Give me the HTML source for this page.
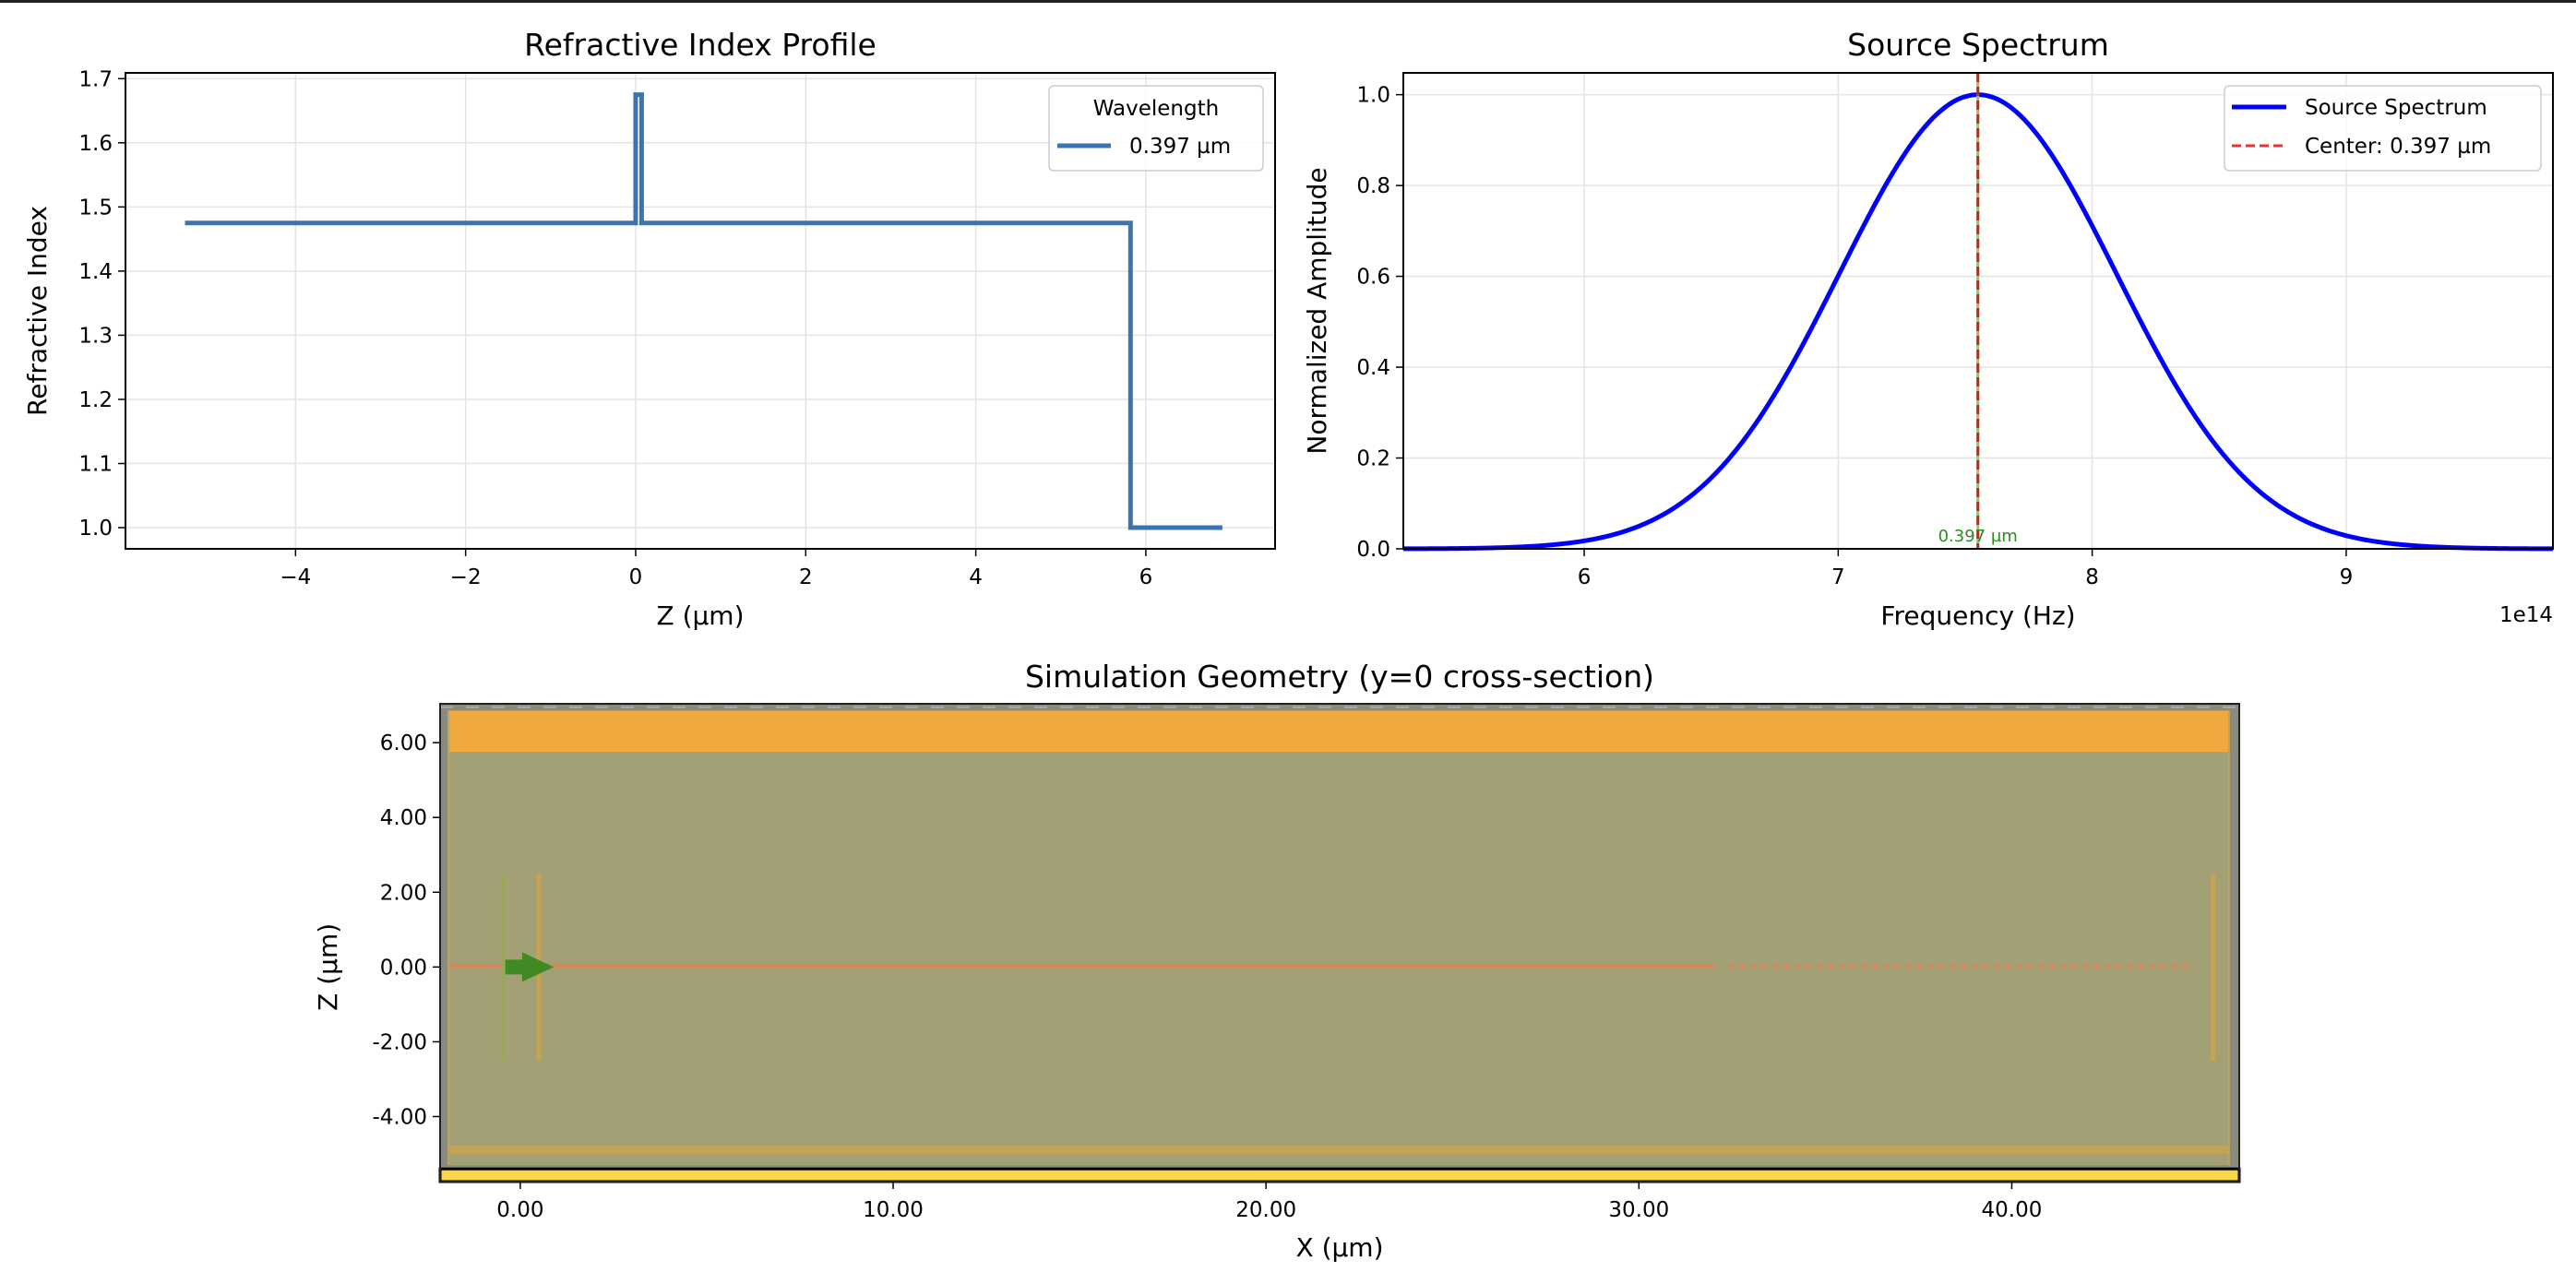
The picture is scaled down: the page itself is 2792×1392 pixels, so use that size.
<!DOCTYPE html>
<html><head><meta charset="utf-8"><style>
html,body{margin:0;padding:0;background:#fff;}
svg{display:block;font-family:"DejaVu Sans","Liberation Sans",sans-serif;}
</style></head><body>
<svg id="fig" width="2792" height="1392" viewBox="0 0 2792 1392" xmlns="http://www.w3.org/2000/svg">
<rect x="0" y="0" width="2792" height="3" fill="#222"/>
<g id="p1"></g>
<g id="p2"></g>
<g id="p3"></g>
</svg>
<script>
// ---- Panel 1 data ----
const riZ = [-5.3, 0.0, 0.0, 0.07, 0.07, 5.82, 5.82, 6.9];
const riN = [1.475, 1.475, 1.675, 1.675, 1.475, 1.475, 1.0, 1.0];
const riXTicks = [-4, -2, 0, 2, 4, 6];
const riYTicks = [1.0, 1.1, 1.2, 1.3, 1.4, 1.5, 1.6, 1.7];
// ---- Panel 2 data ----
const specCenter = 7.55;
const specSigma = 0.545;
const specXTicks = [6, 7, 8, 9];
const specYTicks = [0.0, 0.2, 0.4, 0.6, 0.8, 1.0];
// ---- Panel 3 data ----
const geoXTicks = [0, 10, 20, 30, 40];
const geoYTicks = [6, 4, 2, 0, -2, -4];

const NS = "http://www.w3.org/2000/svg";
function mk(parent, tag, attrs, text){
  const e = document.createElementNS(NS, tag);
  for (const k in attrs) e.setAttribute(k, attrs[k]);
  if (text !== undefined) e.textContent = text;
  parent.appendChild(e);
  return e;
}
function lin(d0,d1,r0,r1){return v=>r0+(v-d0)/(d1-d0)*(r1-r0);}

// ================= Panel 1 =================
(function(){
  const g = document.getElementById('p1');
  const L=136,R=1382,T=79,B=595;
  const sx = lin(-6.0,7.52,L,R), sy = lin(0.967,1.709,B,T);
  riXTicks.forEach(v=>{
    const l=mk(g,'line',{x1:sx(v),x2:sx(v),y1:T,y2:B,stroke:'#e4e4e4','stroke-width':1.5});
     
    const t=mk(g,'line',{x1:sx(v),x2:sx(v),y1:B,y2:B+8,stroke:'#000','stroke-width':1.5});
     
    const tx=mk(g,'text',{x:sx(v),y:B+38,'font-size':23,'text-anchor':'middle'},(v<0?'\u2212'+(-v):String(v)));
     
  });
  riYTicks.forEach(v=>{
    const l=mk(g,'line',{x1:L,x2:R,y1:sy(v),y2:sy(v),stroke:'#e4e4e4','stroke-width':1.5});
     
    const t=mk(g,'line',{x1:L-8,x2:L,y1:sy(v),y2:sy(v),stroke:'#000','stroke-width':1.5});
     
    const tx=mk(g,'text',{x:L-14,y:sy(v)+8,'font-size':23,'text-anchor':'end'},v.toFixed(1));
     
  });
  const pts = riZ.map((z,i)=>sx(z)+','+sy(riN[i])).join(' ');
  const pl=mk(g,'polyline',{points:pts,fill:'none',stroke:'#3b75af','stroke-width':5});
   
  const ax=mk(g,'rect',{x:L,y:T,width:R-L,height:B-T,fill:'none',stroke:'#000','stroke-width':2});
   
  const tt=mk(g,'text',{x:(L+R)/2,y:60,'font-size':33,'text-anchor':'middle'},'Refractive Index Profile');
   
  const xl=mk(g,'text',{x:(L+R)/2,y:677,'font-size':28,'text-anchor':'middle'},'Z (\u00b5m)');
   
  const yl=mk(g,'text',{x:0,y:0,'font-size':28,'text-anchor':'middle',transform:`translate(50,${(T+B)/2}) rotate(-90)`},'Refractive Index');
   
  const lg=mk(g,'g',{});
   
  mk(lg,'rect',{x:1137,y:93,width:232,height:92,rx:5,fill:'#fff','fill-opacity':0.8,stroke:'#ccc','stroke-width':1.5});
  mk(lg,'text',{x:1253,y:125,'font-size':23,'text-anchor':'middle'},'Wavelength');
  mk(lg,'line',{x1:1146,x2:1204,y1:158,y2:158,stroke:'#3b75af','stroke-width':5});
  mk(lg,'text',{x:1224,y:166,'font-size':23},'0.397 \u00b5m');
})();

// ================= Panel 2 =================
(function(){
  const g = document.getElementById('p2');
  const L=1521,R=2767,T=79,B=595;
  const sx = lin(5.288,9.814,L,R), sy = lin(0,1.048,B,T);
  specXTicks.forEach(v=>{
    const l=mk(g,'line',{x1:sx(v),x2:sx(v),y1:T,y2:B,stroke:'#e4e4e4','stroke-width':1.5});
     
    const t=mk(g,'line',{x1:sx(v),x2:sx(v),y1:B,y2:B+8,stroke:'#000','stroke-width':1.5});
     
    const tx=mk(g,'text',{x:sx(v),y:B+38,'font-size':23,'text-anchor':'middle'},String(v));
     
  });
  specYTicks.forEach(v=>{
    const l=mk(g,'line',{x1:L,x2:R,y1:sy(v),y2:sy(v),stroke:'#e4e4e4','stroke-width':1.5});
     
    const t=mk(g,'line',{x1:L-8,x2:L,y1:sy(v),y2:sy(v),stroke:'#000','stroke-width':1.5});
     
    const tx=mk(g,'text',{x:L-14,y:sy(v)+8,'font-size':23,'text-anchor':'end'},v.toFixed(1));
     
  });
  let pts=[];
  for(let i=0;i<=400;i++){const f=5.288+(9.814-5.288)*i/400;pts.push(sx(f)+','+sy(Math.exp(-Math.pow(f-specCenter,2)/(2*specSigma*specSigma))));}
  const pl=mk(g,'polyline',{points:pts.join(' '),fill:'none',stroke:'#0000ff','stroke-width':5});
   
  const cl=mk(g,'line',{x1:sx(specCenter),x2:sx(specCenter),y1:T,y2:B,stroke:'#8fbf8f','stroke-width':3});
   
  const cd=mk(g,'line',{x1:sx(specCenter),x2:sx(specCenter),y1:T,y2:B,stroke:'#b0301a','stroke-width':3,'stroke-dasharray':'10,5'});
   
  const an=mk(g,'text',{x:sx(specCenter),y:B-8,'font-size':18,'text-anchor':'middle',fill:'#2e8b22'},'0.397 \u00b5m');
   
  const ax=mk(g,'rect',{x:L,y:T,width:R-L,height:B-T,fill:'none',stroke:'#000','stroke-width':2});
   
  const tt=mk(g,'text',{x:(L+R)/2,y:60,'font-size':33,'text-anchor':'middle'},'Source Spectrum');
   
  const xl=mk(g,'text',{x:(L+R)/2,y:677,'font-size':28,'text-anchor':'middle'},'Frequency (Hz)');
   
  const ex=mk(g,'text',{x:R,y:674,'font-size':23,'text-anchor':'end'},'1e14');
   
  const yl=mk(g,'text',{x:0,y:0,'font-size':28,'text-anchor':'middle',transform:`translate(1437,${(T+B)/2}) rotate(-90)`},'Normalized Amplitude');
   
  const lg=mk(g,'g',{});
   
  mk(lg,'rect',{x:2411,y:93,width:343,height:92,rx:5,fill:'#fff','fill-opacity':0.8,stroke:'#ccc','stroke-width':1.5});
  mk(lg,'line',{x1:2419,x2:2478,y1:116,y2:116,stroke:'#0000ff','stroke-width':5});
  mk(lg,'text',{x:2498,y:124,'font-size':23},'Source Spectrum');
  mk(lg,'line',{x1:2419,x2:2478,y1:158,y2:158,stroke:'#e8332a','stroke-width':3,'stroke-dasharray':'10,5'});
  mk(lg,'text',{x:2498,y:166,'font-size':23},'Center: 0.397 \u00b5m');
})();

// ================= Panel 3 =================
(function(){
  const g = document.getElementById('p3');
  const L=477,R=2427,T=763,B=1281;
  const sx = lin(-2.15,46.1,L,R), sy = lin(-5.74,7.04,B,T);
  function box(x0,x1,z0,z1,attrs,name){
    const r=mk(g,'rect',Object.assign({x:sx(x0),y:sy(z1),width:sx(x1)-sx(x0),height:sy(z0)-sy(z1)},attrs));
     
    return r;
  }
  box(-2.15,46.1,-5.74,7.04,{fill:'#8a8a7e'},'simulation-domain');
  box(-1.95,45.85,-5.3,5.75,{fill:'#a4a076'},'substrate-region');
  box(-1.95,45.85,5.75,6.86,{fill:'#f0a93e'},'top-layer');
  box(-1.95,45.85,-5.0,-4.78,{fill:'#c4a454'},'bottom-layer');
  box(-1.95,-1.9,-5.3,6.86,{fill:'#b9a462'},'left-edge-strip');
  box(45.8,45.85,-5.3,6.86,{fill:'#b9a462'},'right-edge-strip');
  const pml=mk(g,'line',{x1:L,x2:R,y1:sy(6.95),y2:sy(6.95),stroke:'#aaa','stroke-width':2,'stroke-dasharray':'14,14'});
   
  box(-2.15,46.1,-5.74,-5.4,{fill:'#f8d84a',stroke:'#000','stroke-width':3},'bottom-substrate');
  const wg1=mk(g,'line',{x1:sx(-1.9),x2:sx(32),y1:sy(0.03),y2:sy(0.03),stroke:'#d8855a','stroke-width':4});
   
  const wg2=mk(g,'line',{x1:sx(32.4),x2:sx(44.8),y1:sy(0.03),y2:sy(0.03),stroke:'#d8855a','stroke-width':4,'stroke-dasharray':'6,6'});
   
  const s=mk(g,'line',{x1:sx(-0.46),x2:sx(-0.46),y1:sy(2.5),y2:sy(-2.5),stroke:'#98a858','stroke-width':5});
   
  const m1=mk(g,'line',{x1:sx(0.5),x2:sx(0.5),y1:sy(2.5),y2:sy(-2.5),stroke:'#c8a452','stroke-width':5});
   
  const m2=mk(g,'line',{x1:sx(45.4),x2:sx(45.4),y1:sy(2.5),y2:sy(-2.5),stroke:'#c8a452','stroke-width':5});
   
  const y0=sy(0);
  const ar=mk(g,'polygon',{points:`${sx(-0.4)},${y0-8} ${sx(0.05)},${y0-8} ${sx(0.05)},${y0-16} ${sx(0.9)},${y0} ${sx(0.05)},${y0+16} ${sx(0.05)},${y0+8} ${sx(-0.4)},${y0+8}`,fill:'#3f8a22'});
   
  geoXTicks.forEach(v=>{
    const t=mk(g,'line',{x1:sx(v),x2:sx(v),y1:B,y2:B+8,stroke:'#000','stroke-width':1.5});
     
    const tx=mk(g,'text',{x:sx(v),y:B+38,'font-size':23,'text-anchor':'middle'},v.toFixed(2));
     
  });
  geoYTicks.forEach(v=>{
    const t=mk(g,'line',{x1:L-8,x2:L,y1:sy(v),y2:sy(v),stroke:'#000','stroke-width':1.5});
     
    const tx=mk(g,'text',{x:L-14,y:sy(v)+8,'font-size':23,'text-anchor':'end'},v.toFixed(2));
     
  });
  const ax=mk(g,'rect',{x:L,y:T,width:R-L,height:B-T,fill:'none',stroke:'#222','stroke-width':2});
   
  const tt=mk(g,'text',{x:(L+R)/2,y:745,'font-size':33,'text-anchor':'middle'},'Simulation Geometry (y=0 cross-section)');
   
  const xl=mk(g,'text',{x:(L+R)/2,y:1362,'font-size':28,'text-anchor':'middle'},'X (\u00b5m)');
   
  const yl=mk(g,'text',{x:0,y:0,'font-size':28,'text-anchor':'middle',transform:`translate(365,${sy(0)}) rotate(-90)`},'Z (\u00b5m)');
   
})();
</script>
</body></html>
